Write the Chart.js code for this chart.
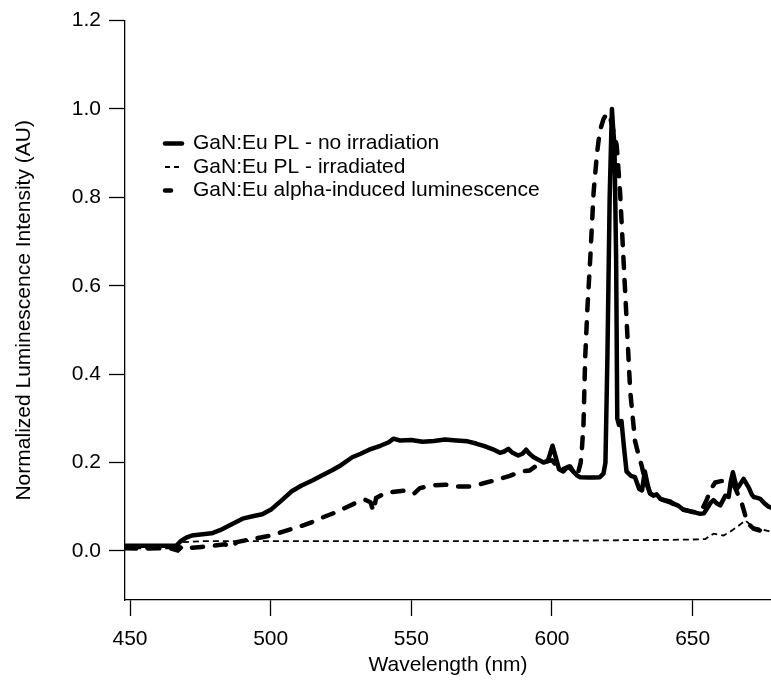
<!DOCTYPE html>
<html><head><meta charset="utf-8">
<script src="https://cdn.jsdelivr.net/npm/chart.js@4.4.0/dist/chart.umd.min.js"></script>
<style>html,body{margin:0;padding:0;background:#fff;} #wrap{width:771px;height:686px;}</style>
</head><body><div id="wrap"><canvas id="c" width="771" height="686"></canvas></div>
<script>
const seriesNames = ['GaN:Eu PL - no irradiation', 'GaN:Eu PL - irradiated', 'GaN:Eu alpha-induced luminescence'];
const xTitle = 'Wavelength (nm)';
const yTitle = 'Normalized Luminescence Intensity (AU)';
const xTicks = [450, 500, 550, 600, 650];
const yTicks = [0.0, 0.2, 0.4, 0.6, 0.8, 1.0, 1.2];

const wlNoIrr = [448.3,455,460,466.5,468,470,472,475,479,482,486,490,494,497,500,504,507.5,511,515,518,522,525,529,532,535,539,542,543.6,546,550,554,558,562,566,570,573,576,579,581.5,583,584.5,586,588,589.5,590.8,592,593.5,595,597,598.5,600.2,601.2,602.5,604,605.5,606.5,607.5,609,610,613,615,617,618.3,619,619.7,620.5,621.3,621.8,622.2,622.8,623.2,623.8,624.7,625.5,626.5,628,629.5,631,632,633,634,634.8,636,637.2,638.5,640,642,643.2,645,646.7,649,652.7,654,655,656.5,657.4,658.5,659.8,660.8,661.6,662.8,663.5,664.3,665,665.7,666.8,668.1,669.9,671,671.7,673,674,675.5,677,677.9];
const valNoIrr = [0.012,0.012,0.012,0.012,0.022,0.030,0.035,0.037,0.040,0.047,0.060,0.073,0.079,0.083,0.093,0.115,0.135,0.148,0.160,0.170,0.183,0.194,0.212,0.220,0.229,0.238,0.246,0.254,0.250,0.251,0.247,0.249,0.252,0.250,0.248,0.243,0.237,0.230,0.222,0.225,0.231,0.222,0.216,0.220,0.229,0.220,0.212,0.207,0.200,0.203,0.238,0.215,0.185,0.180,0.190,0.191,0.180,0.170,0.167,0.166,0.166,0.167,0.175,0.200,0.440,0.800,1.000,0.950,0.920,0.660,0.300,0.285,0.294,0.240,0.180,0.170,0.167,0.140,0.137,0.180,0.150,0.130,0.125,0.128,0.118,0.115,0.112,0.107,0.102,0.093,0.090,0.084,0.085,0.095,0.110,0.115,0.108,0.103,0.115,0.125,0.122,0.155,0.178,0.160,0.140,0.150,0.163,0.144,0.128,0.122,0.120,0.118,0.108,0.100,0.098];

const wlIrr = [448.3,455,460,466.5,469,475,500,530,560,590,620,640,652,654.5,657.4,659,661,663,665.7,668.7,670,671.7,674.6,677.9];
const valIrr = [0.006,0.006,0.006,0.006,0.020,0.022,0.022,0.022,0.022,0.022,0.024,0.025,0.026,0.027,0.039,0.037,0.035,0.042,0.054,0.069,0.062,0.054,0.049,0.043];

const wlAlpha = [448.3,455,460,465,467,468.5,470,475.5,480,483.8,486,488,491,496,500.4,505,509.8,515,519.3,523,527,530,533.5,535.5,536.5,537.5,540.7,544,548.4,551,553,556.7,562,566,570.9,575,580.4,585,589.3,592,596,600,603,606,609,610.2,610.6,611.2,611.8,612.6,613.6,614.8,616,617,618.3,619.5,620.5,621.5,623,624.2,625.4,626.6,627.8,629.5,630.7,632,633,635,638,642,646,650,653,654.4,655.6,656.5,658,660,662.2,664,665.3,666.3,667.5,668.5,669.3,671.7,674,677.9];
const valAlpha = [0.006,0.005,0.006,0.005,0.001,0.010,0.006,0.009,0.012,0.015,0.008,0.020,0.024,0.030,0.035,0.045,0.054,0.066,0.078,0.087,0.099,0.108,0.116,0.110,0.090,0.120,0.131,0.134,0.137,0.130,0.142,0.148,0.150,0.146,0.146,0.152,0.161,0.170,0.180,0.182,0.200,0.205,0.183,0.190,0.170,0.200,0.227,0.287,0.437,0.550,0.662,0.812,0.900,0.950,0.977,0.990,0.985,0.960,0.918,0.812,0.662,0.513,0.362,0.249,0.219,0.190,0.160,0.130,0.118,0.110,0.095,0.088,0.090,0.107,0.125,0.140,0.155,0.158,0.159,0.155,0.140,0.125,0.107,0.085,0.065,0.050,0.046,0.043];

const toXY = (xs, ys) => xs.map((x, i) => ({x: x, y: ys[i]}));
const FONT = {family: '"Liberation Sans", Arial, sans-serif', size: 21};

const legendPlugin = {
  id: 'inlineLegend',
  afterDraw(chart) {
    const ctx = chart.ctx;
    const rows = [
      {y: 143.5, x0: 165, x1: 182, ds: 0},
      {y: 167, x0: 165, x1: 182, ds: 1},
      {y: 190.5, x0: 165, x1: 171, ds: 2}
    ];
    ctx.save();
    ctx.font = '21px "Liberation Sans", Arial, sans-serif';
    ctx.fillStyle = '#000';
    ctx.textBaseline = 'middle';
    ctx.textAlign = 'left';
    rows.forEach(r => {
      const d = chart.data.datasets[r.ds];
      ctx.beginPath();
      ctx.strokeStyle = '#000';
      ctx.lineWidth = d.borderWidth;
      ctx.lineCap = d.borderCapStyle || 'butt';
      ctx.setLineDash(r.ds === 1 ? [5, 4] : []);
      ctx.moveTo(r.x0, r.y);
      ctx.lineTo(r.x1, r.y);
      ctx.stroke();
      ctx.setLineDash([]);
      ctx.fillText(d.label, 193, r.y);
    });
    ctx.restore();
  }
};

new Chart(document.getElementById('c'), {
  type: 'line',
  data: {
    datasets: [
      {label: seriesNames[0], data: toXY(wlNoIrr, valNoIrr), borderColor: '#000', borderWidth: 4.5, pointRadius: 0, tension: 0, fill: false, borderJoinStyle: 'round', borderCapStyle: 'round'},
      {label: seriesNames[1], data: toXY(wlIrr, valIrr), borderColor: '#000', borderWidth: 1.8, borderDash: [6, 4], pointRadius: 0, tension: 0, fill: false},
      {label: seriesNames[2], data: toXY(wlAlpha, valAlpha), borderColor: '#000', borderWidth: 4.5, borderDash: [11, 12], borderCapStyle: 'round', pointRadius: 0, tension: 0, fill: false}
    ]
  },
  options: {
    responsive: false,
    animation: false,
    devicePixelRatio: 1,
    layout: {padding: {top: 18, left: 0, right: 0, bottom: 0}},
    plugins: {legend: {display: false}, tooltip: {enabled: false}},
    scales: {
      x: {
        type: 'linear', min: 448.22, max: 677.85,
        afterBuildTicks: s => { s.ticks = xTicks.map(v => ({value: v})); },
        afterFit: s => { s.height = 86; },
        ticks: {font: FONT, color: '#000', padding: 11, maxRotation: 0, autoSkip: false, callback: v => String(v)},
        grid: {display: true, drawOnChartArea: false, drawTicks: true, tickLength: 16, tickWidth: 1.3, tickColor: '#000'},
        border: {display: true, color: '#000', width: 1.3},
        title: {display: true, text: xTitle, font: FONT, color: '#000', padding: {top: 0, bottom: 8}}
      },
      y: {
        type: 'linear', min: -0.111, max: 1.2,
        afterBuildTicks: s => { s.ticks = yTicks.map(v => ({value: v})); },
        afterFit: s => { s.width = 125; },
        ticks: {font: FONT, color: '#000', padding: 8, autoSkip: false, callback: v => Number(v).toFixed(1)},
        grid: {display: true, drawOnChartArea: false, drawTicks: true, tickLength: 16, tickWidth: 1.3, tickColor: '#000'},
        border: {display: true, color: '#000', width: 1.3},
        title: {display: true, text: yTitle, font: FONT, color: '#000', padding: {top: 12, bottom: 0}}
      }
    }
  },
  plugins: [legendPlugin]
});
</script>
</body></html>
